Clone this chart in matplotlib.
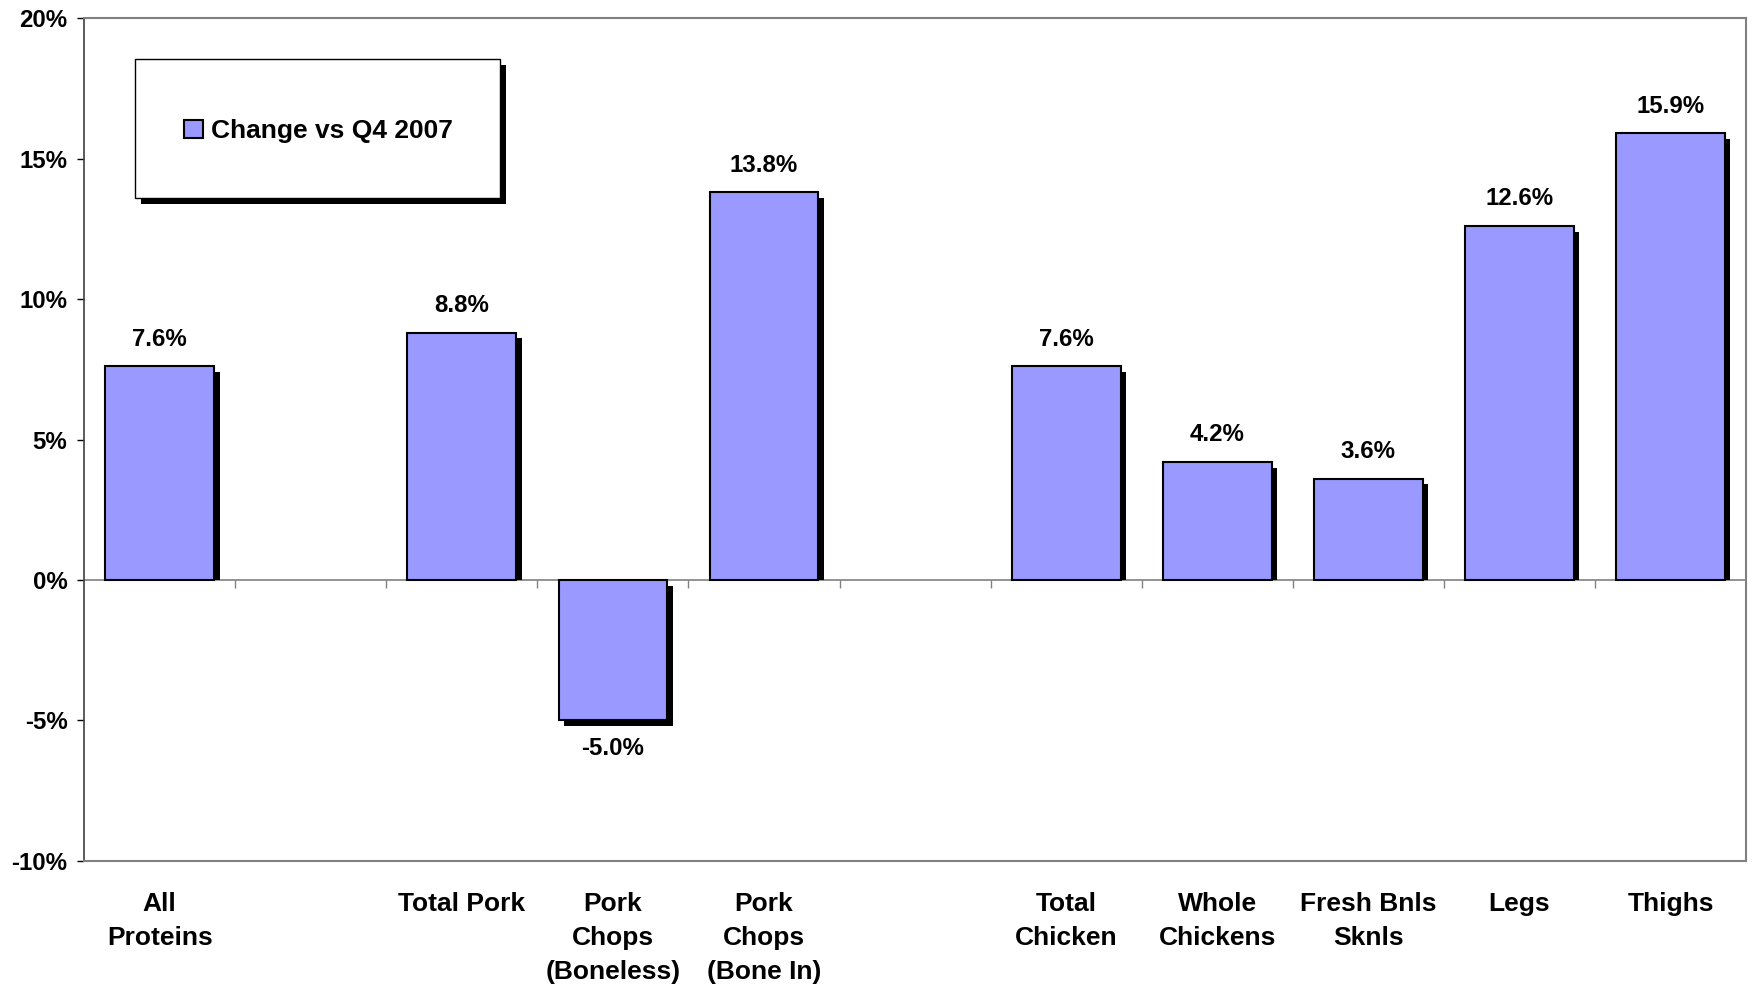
import numpy as np
import matplotlib
matplotlib.use("Agg")
import matplotlib.pyplot as plt
import matplotlib.patheffects as pe
import matplotlib.transforms as mtransforms
from matplotlib.patches import Rectangle

plt.rcParams['font.family'] = ['Liberation Sans', 'DejaVu Sans']
plt.rcParams['font.weight'] = 'bold'

categories = ["All\nProteins", "", "Total Pork", "Pork\nChops\n(Boneless)", "Pork\nChops\n(Bone In)",
              "", "Total\nChicken", "Whole\nChickens", "Fresh Bnls\nSknls", "Legs", "Thighs"]
values = [7.6, np.nan, 8.8, -5.0, 13.8, np.nan, 7.6, 4.2, 3.6, 12.6, 15.9]
series_name = "Change vs Q4 2007"
yticks = [-10, -5, 0, 5, 10, 15, 20]

bar_color = "#9999FF"
bar_width = 0.72

fig = plt.figure(figsize=(17.52, 9.86), dpi=100)
ax = fig.add_axes([0.048, 0.1268, 0.9486, 0.8549])

x = np.arange(len(categories))
vals = np.array(values, dtype=float)
mask = ~np.isnan(vals)

ax.set_xlim(-0.5, len(categories) - 0.5)
ax.set_ylim(-10, 20)

# shadows (offset copies of bars); positive-bar shadows clipped at zero line
shadow_tr = ax.transData + mtransforms.ScaledTranslation(4 / 72, -4 / 72, fig.dpi_scale_trans)
shadow_bars = ax.bar(x[mask], vals[mask], width=bar_width, color='black', linewidth=0,
                     zorder=2.5, transform=shadow_tr)
clip_pos = Rectangle((-0.5, 0), len(categories), 30, transform=ax.transData)
for sb, v in zip(shadow_bars, vals[mask]):
    if v >= 0:
        sb.set_clip_path(clip_pos)

bars = ax.bar(x[mask], vals[mask], width=bar_width, color=bar_color, edgecolor='black',
              linewidth=1.5, label=series_name, zorder=3)

for xi, v in zip(x[mask], vals[mask]):
    off = 19.5 if v >= 0 else -20
    ax.annotate(f"{v:.1f}%", (xi, v), xytext=(0, off), textcoords='offset points',
                ha='center', va='center', fontsize=17.3, fontweight='bold', zorder=5)

ax.set_yticks(yticks)
ax.set_yticklabels([f"{t}%" for t in yticks], fontsize=17.3, fontweight='bold')
ax.tick_params(axis='y', length=5, width=1, pad=7, color='black')
ax.set_xticks(x)
ax.set_xticklabels(categories, fontsize=19, fontweight='bold', linespacing=1.52, va='top')
ax.tick_params(axis='x', length=0, pad=22.5)

# zero line and boundary ticks
ax.axhline(0, color='#808080', linewidth=1.2, zorder=2)
bounds = np.arange(len(categories) + 1) - 0.5
ax.vlines(bounds[1:-1], -0.28, 0, color='#808080', linewidth=1.0, zorder=2)

for s in ['top', 'right', 'bottom']:
    ax.spines[s].set_color('#808080')
    ax.spines[s].set_linewidth(1.5)
ax.spines['left'].set_color('#404040')
ax.spines['left'].set_linewidth(1.2)

# legend box with shadow
shadow = [pe.SimplePatchShadow(offset=(4, -4), shadow_rgbFace='black', alpha=1.0), pe.Normal()]
rect = Rectangle((0.0307, 0.7865), 0.2196, 0.1649, transform=ax.transAxes,
                 facecolor='white', edgecolor='black', linewidth=1.0, zorder=6)
rect.set_path_effects(shadow)
ax.add_patch(rect)
leg = ax.legend(loc='center', bbox_to_anchor=(0.141, 0.866), frameon=False,
                prop={'size': 19, 'weight': 'bold'}, handlelength=0.7, handleheight=0.7,
                handletextpad=0.3)
leg.set_zorder(7)

fig.savefig("out.png", dpi=100, facecolor='white')
